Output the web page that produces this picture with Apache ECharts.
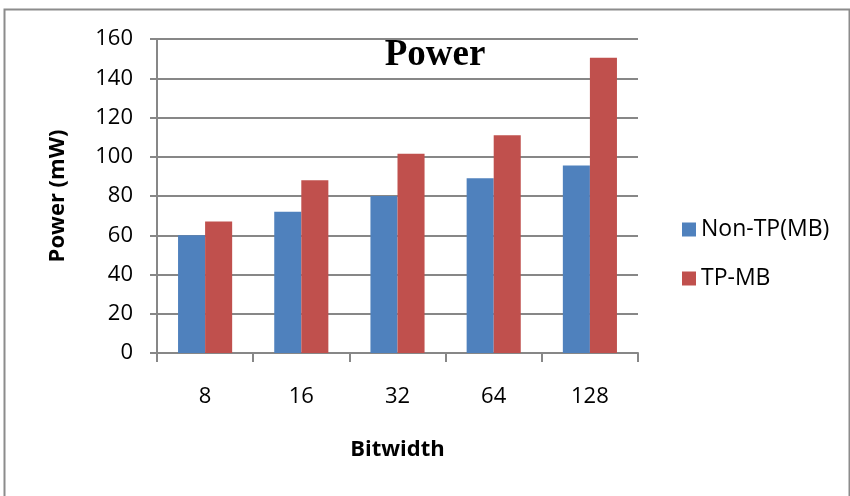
<!DOCTYPE html>
<html>
<head>
<meta charset="utf-8">
<script src="https://cdn.jsdelivr.net/npm/echarts@6/dist/echarts.min.js"></script>
<style>
  html, body { margin: 0; padding: 0; background: #fff; }
  #chart { width: 850px; height: 496px; }
</style>
</head>
<body>
<div id="chart"></div>
<script>
// Bit widths on the category axis
const bitwidths = ['8', '16', '32', '64', '128'];
// Power in mW for each design
const nonTpMb = [60, 72, 80, 89, 95.5];
const tpMb = [67, 88, 101.5, 111, 150.5];
// Value axis range
const yMin = 0, yMax = 160, yStep = 20;

const labelFont = '"Open Sans", "Noto Sans", sans-serif';
const gridGray = '#878787';

const chart = echarts.init(document.getElementById('chart'), null, { renderer: 'canvas' });
chart.setOption({
  animation: false,
  backgroundColor: '#ffffff',
  grid: { left: 157, right: 212, top: 39, bottom: 143, containLabel: false },
  graphic: [
    {
      type: 'rect',
      shape: { x: 4.5, y: 9.5, width: 845, height: 520 },
      style: { fill: 'none', stroke: '#8c8c8c', lineWidth: 2 },
      silent: true
    },
    {
      type: 'text',
      x: 435, y: 55,
      style: {
        text: 'Power',
        textAlign: 'center',
        textVerticalAlign: 'middle',
        font: 'bold 37px "Liberation Serif", "DejaVu Serif", serif',
        fill: '#000'
      },
      z: 10
    }
  ],
  legend: {
    orient: 'vertical',
    left: 682,
    top: 218,
    padding: 0,
    itemWidth: 14,
    itemHeight: 14,
    itemGap: 26,
    icon: 'rect',
    textStyle: { fontFamily: labelFont, fontSize: 23, color: '#000' },
    data: ['Non-TP(MB)', 'TP-MB']
  },
  xAxis: {
    type: 'category',
    data: bitwidths,
    name: 'Bitwidth',
    nameLocation: 'middle',
    nameGap: 86,
    nameTextStyle: { fontFamily: labelFont, fontSize: 22, fontWeight: 'bold', color: '#000' },
    axisLine: { lineStyle: { color: gridGray, width: 2 } },
    axisTick: { show: true, alignWithLabel: false, length: 9, lineStyle: { color: gridGray, width: 2 } },
    axisLabel: { margin: 33, fontFamily: labelFont, fontSize: 22, color: '#000' }
  },
  yAxis: {
    type: 'value',
    min: yMin,
    max: yMax,
    interval: yStep,
    name: 'Power (mW)',
    nameLocation: 'middle',
    nameGap: 88,
    nameRotate: 90,
    nameTextStyle: { fontFamily: labelFont, fontSize: 22, fontWeight: 'bold', color: '#000' },
    axisLine: { show: true, lineStyle: { color: gridGray, width: 2 } },
    axisTick: { show: true, length: 7, lineStyle: { color: gridGray, width: 2 } },
    axisLabel: { margin: 24, fontFamily: labelFont, fontSize: 22, color: '#000' },
    splitLine: { show: true, lineStyle: { color: gridGray, width: 2 } }
  },
  series: [
    {
      name: 'Non-TP(MB)',
      type: 'bar',
      data: nonTpMb,
      itemStyle: { color: '#4F81BD' },
      barGap: '0%',
      barCategoryGap: '43.75%'
    },
    {
      name: 'TP-MB',
      type: 'bar',
      data: tpMb,
      itemStyle: { color: '#C0504D' },
      barGap: '0%',
      barCategoryGap: '43.75%'
    }
  ]
});
</script>
</body>
</html>
